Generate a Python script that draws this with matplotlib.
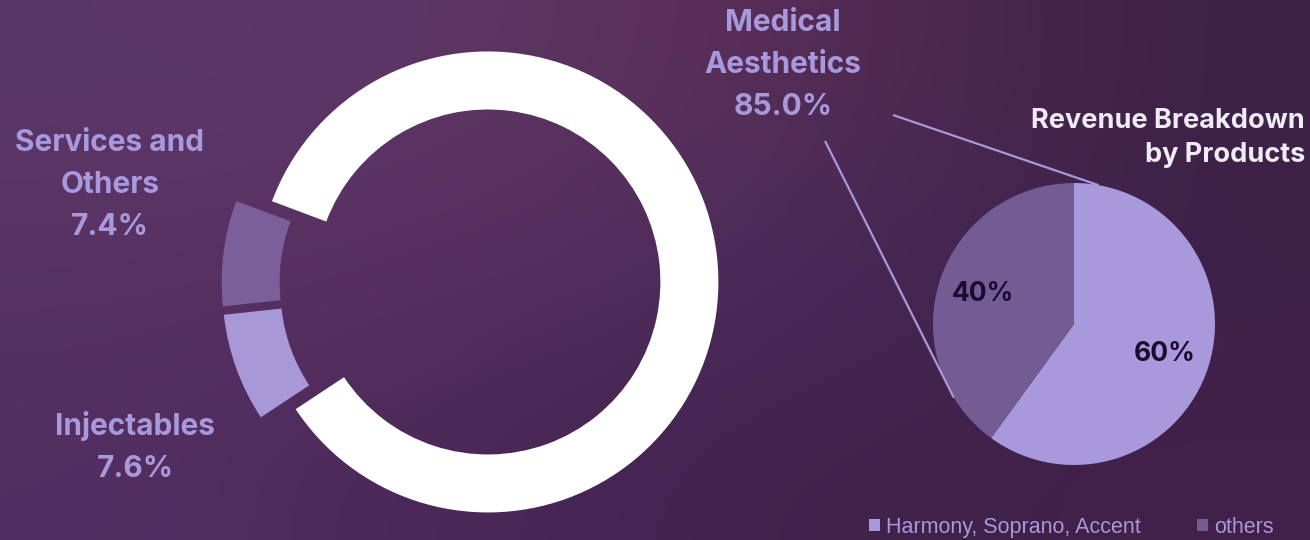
import numpy as np
import matplotlib.pyplot as plt
from matplotlib.colors import to_rgb

# segment data (left donut)
segments = ['Medical\nAesthetics', 'Services and\nOthers', 'Injectables']
seg_values = [85.0, 7.4, 7.6]
seg_colors = ['#ffffff', '#7a5f9b', '#a898d8']

# product breakdown (right pie)
products = ['Harmony, Soprano, Accent', 'others']
prod_values = [60, 40]
prod_colors = ['#a898dc', '#735c94']

W, H = 1310, 540
label_col = '#a898dc'
font = 'Inter'

fig = plt.figure(figsize=(W / 100, H / 100), dpi=100)
ax = fig.add_axes([0, 0, 1, 1])

# background gradient
bg_hex = [
    ['#5b3768', '#5d3663', '#572c55', '#3d2146'],
    ['#573263', '#5a2f5e', '#462a5a', '#3d2147'],
    ['#532e62', '#482656', '#3f2249', '#42204a'],
]
bg = np.array([[to_rgb(c) for c in row] for row in bg_hex])
ax.imshow(bg, extent=(0, W, 0, H), origin='upper', interpolation='bicubic',
          aspect='auto', zorder=0)

# donut
ax.pie(seg_values, colors=seg_colors, startangle=-146.5, counterclock=True,
       radius=230.5, center=(470, H - 284), explode=[18] * 3,
       wedgeprops=dict(width=58, linewidth=0))

# product pie
pie_c = (1074, H - 324)
pie_r = 141
wedges, _, autotexts = ax.pie(prod_values, colors=prod_colors, startangle=90,
                              counterclock=False, radius=pie_r, center=pie_c,
                              autopct='%.0f%%', pctdistance=0.68,
                              wedgeprops=dict(linewidth=0),
                              textprops=dict(color='#1c0b2e', fontsize=19,
                                             fontweight='bold', family=font))

ax.set_xlim(0, W)
ax.set_ylim(0, H)
ax.set_aspect('auto')
ax.axis('off')

# connector lines from the label to the pie rim
for start, ang in [((893, H - 115), 80), ((825, H - 141), 211.5)]:
    a = np.deg2rad(ang)
    end = (pie_c[0] + pie_r * np.cos(a), pie_c[1] + pie_r * np.sin(a))
    ax.plot([start[0], end[0]], [start[1], end[1]], color=label_col, lw=1.6,
            solid_capstyle='butt', zorder=3)

# donut labels
label_pos = [(783, H - 65), (110, H - 185), (135, H - 447)]
for name, val, (x, y) in zip(segments, seg_values, label_pos):
    ax.text(x, y, f"{name}\n{val:.1f}%", ha='center', va='center',
            color=label_col, fontsize=21.5, fontweight='bold', family=font,
            linespacing=1.62)

ax.text(1305, H - 138, 'Revenue Breakdown\nby Products', ha='right', va='center',
        color='#f1ebf8', fontsize=19.5, fontweight='bold', family=font,
        linespacing=1.35)

ax.legend(wedges, products, loc='lower right', bbox_to_anchor=(1274 / W, 2 / H),
          ncol=2, frameon=False, borderpad=0, borderaxespad=0,
          handlelength=0.5, handleheight=0.5, handletextpad=0.3,
          columnspacing=2.6, labelcolor='#a898d8',
          prop=dict(family='Liberation Sans', size=15.5))

fig.savefig('out.png', dpi=100)
